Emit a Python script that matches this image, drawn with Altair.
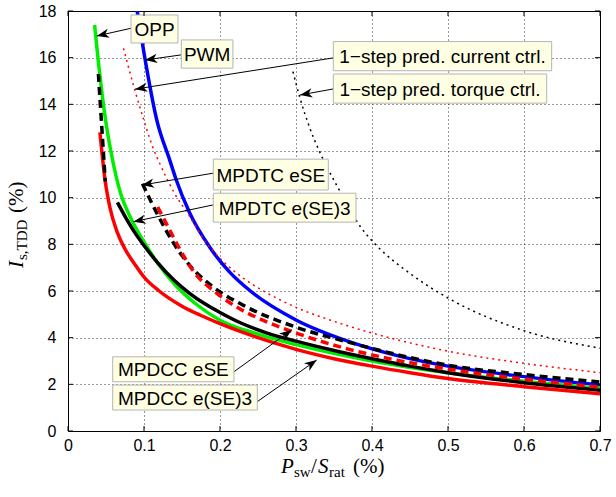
import math
import altair as alt
import pandas as pd

W, H = 532, 420
X_MAX, Y_MAX = 0.7, 18

x_ticks = [0, 0.1, 0.2, 0.3, 0.4, 0.5, 0.6, 0.7]
y_ticks = [0, 2, 4, 6, 8, 10, 12, 14, 16, 18]

# ---- curves ----
pwm_x = [0.091, 0.1, 0.117, 0.134, 0.142, 0.16, 0.187, 0.213, 0.24, 0.3, 0.37, 0.437, 0.5, 0.6, 0.7]
pwm_y = [18.0, 16.2, 13.3, 11.6, 10.8, 9.35, 7.85, 6.8, 6.0, 4.76, 3.83, 3.2, 2.78, 2.33, 1.97]

opp_x = [0.035, 0.04, 0.045, 0.05, 0.06, 0.07, 0.08, 0.09, 0.1, 0.12, 0.14, 0.17, 0.2, 0.25, 0.3, 0.4, 0.5, 0.6, 0.7]
opp_y = [17.4, 15.8, 14.4, 13.2, 11.4, 10.1, 9.3, 8.65, 8.1, 7.1, 6.3, 5.4, 4.75, 4.15, 3.7, 3.0, 2.5, 2.13, 1.83]

cur_x = [0.073, 0.088, 0.1, 0.11, 0.123, 0.14, 0.16, 0.18, 0.2, 0.235, 0.26, 0.3, 0.35, 0.4, 0.5, 0.6, 0.7]
cur_y = [16.4, 14.6, 13.3, 12.3, 11.3, 10.2, 9.2, 8.15, 7.4, 6.45, 5.95, 5.3, 4.7, 4.2, 3.42, 2.9, 2.5]

trq_x = [0.296, 0.305, 0.318, 0.332, 0.354, 0.386, 0.406, 0.45, 0.5, 0.6, 0.7]
trq_y = [15.4, 14.3, 13.0, 11.9, 10.5, 8.7, 7.95, 6.75, 5.7, 4.3, 3.55]

dtc_ese_start_x = [0.04, 0.049]
dtc_ese_start_y = [15.3, 10.7]
dtc_ese_x = [0.098, 0.117, 0.139, 0.16, 0.19, 0.23, 0.3, 0.37, 0.44, 0.5, 0.6, 0.7]
dtc_ese_y = [10.6, 9.33, 8.05, 7.1, 6.2, 5.4, 4.45, 3.8, 3.22, 2.82, 2.42, 2.1]

dtc_se3_x = [0.118, 0.134, 0.147, 0.165, 0.196, 0.22, 0.26, 0.3, 0.37, 0.42, 0.5, 0.6, 0.7]
dtc_se3_y = [9.6, 8.6, 7.8, 6.85, 5.9, 5.35, 4.7, 4.2, 3.5, 3.12, 2.65, 2.22, 1.88]

dcc_ese_x = [0.065, 0.075, 0.086, 0.1, 0.117, 0.14, 0.16, 0.18, 0.2, 0.226, 0.26, 0.3, 0.35, 0.4, 0.45, 0.5, 0.6, 0.7]
dcc_ese_y = [9.8, 9.2, 8.6, 7.95, 7.25, 6.45, 5.9, 5.45, 5.08, 4.65, 4.22, 3.85, 3.45, 3.1, 2.78, 2.5, 2.07, 1.75]

dcc_se3_x = [0.042, 0.049, 0.055, 0.065, 0.075, 0.09, 0.1, 0.12, 0.15, 0.175, 0.2, 0.25, 0.3, 0.35, 0.4, 0.45, 0.5, 0.6, 0.7]
dcc_se3_y = [12.8, 10.7, 9.6, 8.5, 7.8, 7.05, 6.6, 6.0, 5.35, 4.95, 4.6, 4.0, 3.5, 3.1, 2.78, 2.5, 2.25, 1.9, 1.6]

# ---- annotations (data coordinates) ----
ann_text = ["OPP", "PWM", "1\u2212step pred. current ctrl.", "1\u2212step pred. torque ctrl.",
            "MPDTC eSE", "MPDTC e(SE)3", "MPDCC eSE", "MPDCC e(SE)3"]
box_x0 = [0.0829, 0.1491, 0.3491, 0.3491, 0.1912, 0.1912, 0.0588, 0.0588]
box_x1 = [0.1447, 0.2170, 0.6364, 0.6299, 0.3425, 0.3789, 0.2184, 0.2491]
box_y0 = [16.63, 15.55, 15.44, 14.05, 10.33, 8.95, 2.11, 0.90]
box_y1 = [17.83, 16.76, 16.69, 15.30, 11.65, 10.19, 3.18, 1.97]
tail_x = [0.0829, 0.1491, 0.3491, 0.3491, 0.1912, 0.1912, 0.2184, 0.2491]
tail_y = [17.26, 16.12, 15.99, 14.66, 11.05, 9.69, 2.54, 1.26]
tip_x = [0.0378, 0.1013, 0.0882, 0.3053, 0.097, 0.086, 0.2943, 0.3272]
tip_y = [16.93, 15.90, 14.65, 14.40, 10.54, 8.97, 4.33, 3.04]

FONT = "Liberation Sans"
SERIF = "Liberation Serif"

xs = alt.Scale(domain=[0, X_MAX], nice=False, zero=False)
ys = alt.Scale(domain=[0, Y_MAX], nice=False, zero=False)

series = [
    # name, xs, ys, color, dash, width
    ("PWM", [pwm_x], [pwm_y], "#0000ff", None, 3.5),
    ("OPP", [opp_x], [opp_y], "#00ee00", None, 3.5),
    ("cur", [cur_x], [cur_y], "#ff0000", [2, 4], 1.5),
    ("trq", [trq_x], [trq_y], "#000000", [2, 4], 1.5),
    ("dcc_ese", [dcc_ese_x], [dcc_ese_y], "#000000", None, 3.5),
    ("dcc_se3", [dcc_se3_x], [dcc_se3_y], "#ff0000", None, 3.5),
    ("dtc_ese", [dtc_ese_start_x, dtc_ese_x], [dtc_ese_start_y, dtc_ese_y], "#000000", [8, 5], 3.5),
    ("dtc_se3", [dtc_se3_x], [dtc_se3_y], "#ff0000", [8, 5], 3.5),
]

x_axis = alt.Axis(values=x_ticks, grid=True, gridDash=[1, 3], gridColor="black", gridOpacity=0.8,
                  domain=False, ticks=False, tickSize=0, labelFont=FONT, labelFontSize=16,
                  labelColor="black", labelPadding=6, labelFlush=False, title=None,
                  labelExpr="datum.value == 0 ? '0' : format(datum.value, '.1f')")
y_axis = alt.Axis(values=y_ticks, grid=True, gridDash=[1, 3], gridColor="black", gridOpacity=0.8,
                  domain=False, ticks=False, tickSize=0, labelFont=FONT, labelFontSize=16,
                  labelColor="black", labelPadding=12, labelFlush=False, title=None, format="d")


def XQ(f):
    return alt.X(f"{f}:Q", scale=xs, axis=x_axis)


def YQ(f):
    return alt.Y(f"{f}:Q", scale=ys, axis=y_axis)


layers = []
for name, xl, yl, col, dash, wd in series:
    rows = []
    for s, (xx, yy) in enumerate(zip(xl, yl)):
        for i, (a, b) in enumerate(zip(xx, yy)):
            rows.append({"x": a, "y": b, "seg": s, "o": i})
    kw = dict(color=col, strokeWidth=wd, clip=True, interpolate="monotone")
    if dash:
        kw["strokeDash"] = dash
    layers.append(
        alt.Chart(pd.DataFrame(rows)).mark_line(**kw).encode(
            x=XQ("x"), y=YQ("y"), detail="seg:N", order="o:Q")
    )

ann = pd.DataFrame({"t": ann_text, "bx0": box_x0, "bx1": box_x1, "by0": box_y0, "by1": box_y1,
                    "tx": tail_x, "ty": tail_y, "hx": tip_x, "hy": tip_y})
ann["cx"] = (ann["bx0"] + ann["bx1"]) / 2
ann["cy"] = (ann["by0"] + ann["by1"]) / 2
ann["ang"] = [
    math.degrees(math.atan2(-(hy - ty) * H / Y_MAX, (hx - tx) * W / X_MAX)) % 360
    for hx, hy, tx, ty in zip(tip_x, tip_y, tail_x, tail_y)
]

base = alt.Chart(ann)
layers.append(base.mark_rule(color="black", strokeWidth=1).encode(
    x=XQ("tx"), y=YQ("ty"), x2="hx:Q", y2="hy:Q"))
layers.append(base.mark_point(shape="M0,0L-1,-0.38L-0.72,0L-1,0.38Z", filled=True, color="black",
                              opacity=1, size=600).encode(
    x=XQ("hx"), y=YQ("hy"), angle=alt.Angle("ang:Q", scale=None)))
layers.append(base.mark_rect(fill="#ffffe3", stroke="#b4b4b4", strokeWidth=1).encode(
    x=XQ("bx0"), x2="bx1:Q", y=YQ("by0"), y2="by1:Q"))
layers.append(base.mark_text(font=FONT, fontSize=19, color="black", align="center",
                             baseline="middle", dy=1).encode(
    x=XQ("cx"), y=YQ("cy"), text="t:N"))

# inward ticks on all four sides
xt = alt.Chart(pd.DataFrame({"v": x_ticks}))
yt = alt.Chart(pd.DataFrame({"v": y_ticks}))
for y0, y1 in [(H, H - 5), (0, 5)]:
    layers.append(xt.mark_rule(color="black", strokeWidth=1).encode(
        x=XQ("v"), y=alt.value(y0), y2=alt.value(y1)))
for x0, x1 in [(0, 5), (W, W - 5)]:
    layers.append(yt.mark_rule(color="black", strokeWidth=1).encode(
        y=YQ("v"), x=alt.value(x0), x2=alt.value(x1)))

# axis titles built from styled pieces
one = alt.Chart(pd.DataFrame({"d": [0]}))
MAIN, SUB = 21, 15


def piece(txt, px, py, size, italic=False, angle=0):
    return one.mark_text(text=txt, font=SERIF, fontSize=size, fontStyle="italic" if italic else "normal",
                         align="left", baseline="alphabetic", angle=angle, color="black").encode(
        x=alt.value(px), y=alt.value(py))


# x title: P_sw / S_rat (%)
xb = 462
x0 = 213
layers += [
    piece("P", x0, xb, MAIN, True),
    piece("sw", x0 + 13, xb + 4, SUB),
    piece("/", x0 + 30, xb, MAIN),
    piece("S", x0 + 37, xb, MAIN, True),
    piece("rat", x0 + 48, xb + 4, SUB),
    piece("(%)", x0 + 72, xb, MAIN),
]
# y title: I_{s,TDD} (%)
yb = -45
y0 = 257
layers += [
    piece("I", yb, y0, MAIN, True, 270),
    piece("s,TDD", yb + 4, y0 - 8, SUB, False, 270),
    piece("(%)", yb, y0 - 55, MAIN, False, 270),
]

chart = alt.layer(*layers).properties(
    width=W, height=H,
    padding={"left": 68, "top": 11, "right": 16, "bottom": 66},
    autosize=alt.AutoSizeParams(type="none"),
    background="white",
).configure_view(stroke="black", strokeWidth=1)

chart.save("out.html", embed_options={"renderer": "svg", "actions": False})
